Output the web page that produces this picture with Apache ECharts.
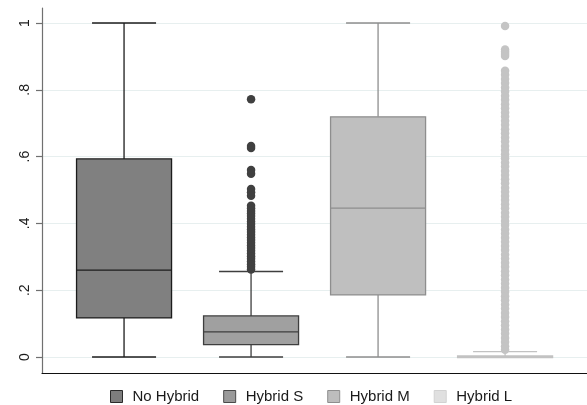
<!DOCTYPE html>
<html>
<head>
<meta charset="utf-8">
<script src="https://cdn.jsdelivr.net/npm/echarts@6/dist/echarts.min.js"></script>
<style>
  html, body { margin: 0; padding: 0; background: #fff; }
  #chart { width: 587px; height: 405px; }
</style>
</head>
<body>
<div id="chart"></div>
<script>
// Groups and their box statistics
const groups = ['No Hybrid', 'Hybrid S', 'Hybrid M', 'Hybrid L'];
const lowerWhisker = [0, 0, 0, 0];
const q1 = [0.117, 0.037, 0.186, 0];
const median = [0.26, 0.075, 0.446, 0];
const q3 = [0.593, 0.123, 0.719, 0.003];
const upperWhisker = [1, 0.256, 1, 0.016];

// Outside values per group
const outliersNoHybrid = [];
const outliersHybridS = [
  0.772, 0.632, 0.626, 0.56, 0.549, 0.503, 0.493, 0.483,
  0.453, 0.445, 0.437, 0.43, 0.422, 0.414, 0.406, 0.398, 0.39, 0.382,
  0.374, 0.366, 0.358, 0.35, 0.342, 0.334, 0.326, 0.318, 0.31, 0.302,
  0.294, 0.286, 0.278, 0.27, 0.262
];
const outliersHybridM = [];
const outliersHybridL = [
  0.991, 0.921, 0.914, 0.907, 0.901,
  0.857, 0.845, 0.832, 0.82, 0.807, 0.795, 0.782, 0.77, 0.757, 0.745,
  0.732, 0.72, 0.707, 0.695, 0.682, 0.67, 0.657, 0.645, 0.632, 0.62,
  0.607, 0.595, 0.582, 0.57, 0.557, 0.545, 0.532, 0.52, 0.507, 0.495,
  0.482, 0.47, 0.457, 0.445, 0.432, 0.42, 0.407, 0.395, 0.382, 0.37,
  0.357, 0.345, 0.332, 0.32, 0.307, 0.295, 0.282, 0.27, 0.257, 0.245,
  0.232, 0.22, 0.207, 0.195, 0.182, 0.17, 0.157, 0.145, 0.132, 0.12,
  0.107, 0.095, 0.082, 0.07, 0.057, 0.045, 0.032, 0.022
];
const outliers = [outliersNoHybrid, outliersHybridS, outliersHybridM, outliersHybridL];

const yTicks = [0, 0.2, 0.4, 0.6, 0.8, 1];

// Styling per group
const fills = ['#808080', '#a0a0a0', '#bfbfbf', '#dcdcdc'];
const strokes = ['#1c1c1c', '#3e3e3e', '#8e8e8e', '#c2c2c2'];
const dotColors = ['#1c1c1c', '#404040', '#8e8e8e', '#c4c4c4'];
const legendFills = ['#7d7d7d', '#9a9a9a', '#bdbdbd', '#e0e0e0'];
const legendBorders = ['#2a2a2a', '#4a4a4a', '#8e8e8e', '#d2d2d2'];

const BOX_W = 0.748;  // in x-axis units (one slot = 1)
const CAP_W = 0.504;

function fmtTick(v) {
  if (Math.abs(v) < 1e-9) return '0';
  if (Math.abs(v - 1) < 1e-9) return '1';
  return String(Math.round(v * 10) / 10).replace(/^0/, '');
}

function boxRenderer(stroke, fill) {
  return function (params, api) {
    const x = api.value(0);
    const lo = api.coord([x, api.value(1)]);
    const b1 = api.coord([x, api.value(2)]);
    const md = api.coord([x, api.value(3)]);
    const b3 = api.coord([x, api.value(4)]);
    const hi = api.coord([x, api.value(5)]);
    const halfBox = api.size([BOX_W, 0])[0] / 2;
    const halfCap = api.size([CAP_W, 0])[0] / 2;
    const cx = lo[0];
    const ls = { stroke: stroke, lineWidth: 1.3, fill: null };
    return {
      type: 'group',
      children: [
        { type: 'line', shape: { x1: cx, y1: b3[1], x2: cx, y2: hi[1] }, style: ls },
        { type: 'line', shape: { x1: cx, y1: b1[1], x2: cx, y2: lo[1] }, style: ls },
        { type: 'line', shape: { x1: cx - halfCap, y1: hi[1], x2: cx + halfCap, y2: hi[1] }, style: ls },
        { type: 'line', shape: { x1: cx - halfCap, y1: lo[1], x2: cx + halfCap, y2: lo[1] }, style: ls },
        { type: 'rect', shape: { x: cx - halfBox, y: b3[1], width: halfBox * 2, height: Math.max(b1[1] - b3[1], 1.5) },
          style: { fill: fill, stroke: stroke, lineWidth: 1.3 } },
        { type: 'line', shape: { x1: cx - halfBox, y1: md[1], x2: cx + halfBox, y2: md[1] }, style: ls }
      ]
    };
  };
}

const series = [];
groups.forEach(function (name, i) {
  series.push({
    name: name,
    type: 'custom',
    renderItem: boxRenderer(strokes[i], fills[i]),
    itemStyle: { color: legendFills[i], borderColor: legendBorders[i] },
    encode: { x: 0, y: [1, 2, 3, 4, 5] },
    data: [[i, lowerWhisker[i], q1[i], median[i], q3[i], upperWhisker[i]]],
    silent: true,
    z: 2
  });
});
groups.forEach(function (name, i) {
  if (!outliers[i].length) return;
  series.push({
    name: name + ' outside values',
    type: 'scatter',
    symbol: 'circle',
    symbolSize: 8.5,
    itemStyle: { color: dotColors[i], opacity: 1 },
    data: outliers[i].map(function (v) { return [i, v]; }),
    silent: true,
    z: 3
  });
});

const chart = echarts.init(document.getElementById('chart'), null, { renderer: 'canvas' });
chart.setOption({
  animation: false,
  backgroundColor: '#ffffff',
  grid: { left: 42, right: 0, top: 8, bottom: 32, containLabel: false },
  xAxis: {
    type: 'value',
    min: -0.646,
    max: 3.645,
    axisLine: { show: true, onZero: false, lineStyle: { color: '#111111', width: 1.2 } },
    axisTick: { show: false },
    axisLabel: { show: false },
    splitLine: { show: false }
  },
  yAxis: {
    type: 'value',
    min: -0.0479,
    max: 1.0449,
    axisLine: { show: true, onZero: false, lineStyle: { color: '#707070', width: 1.2 } },
    axisTick: { show: true, length: 6, customValues: yTicks, lineStyle: { color: '#707070', width: 1.2 } },
    axisLabel: {
      customValues: yTicks,
      rotate: 90,
      margin: 10,
      fontFamily: 'Liberation Sans, Arial, sans-serif',
      fontSize: 14,
      color: '#1a1a1a',
      formatter: fmtTick
    },
    splitLine: { show: true, customValues: yTicks, lineStyle: { color: '#e7efef', width: 1.2 } }
  },
  legend: {
    data: groups.map(function (g, i) {
      return { name: g, icon: 'rect', itemStyle: { color: legendFills[i], borderColor: legendBorders[i], borderWidth: 1 } };
    }),
    left: 110,
    top: 389,
    padding: 0,
    itemWidth: 12,
    itemHeight: 12,
    itemGap: 24,
    selectedMode: false,
    textStyle: { fontFamily: 'Liberation Sans, Arial, sans-serif', fontSize: 15, color: '#1a1a1a', padding: [0, 0, 0, 5] }
  },
  series: series
});
</script>
</body>
</html>
